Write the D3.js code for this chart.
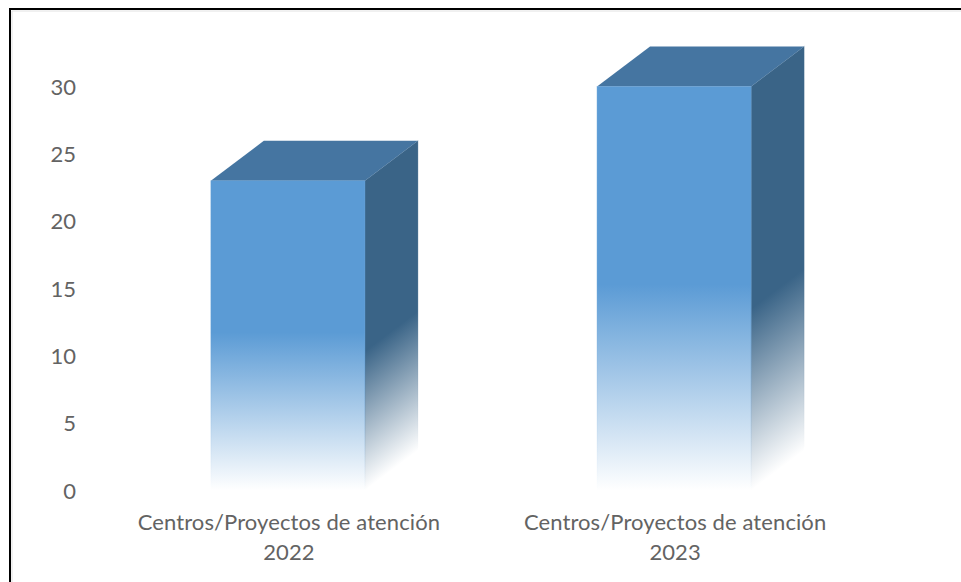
<!DOCTYPE html>
<html>
<head>
<meta charset="utf-8">
<script src="https://d3js.org/d3.v7.min.js"></script>
<style>
    html, body { margin: 0; padding: 0; background: #fff; overflow: hidden; }
    text { font-family: Lato, "Open Sans", sans-serif; fill: #636363; }
</style>
</head>
<body>
<svg id="chart" width="961" height="582"></svg>
<script>
const categories = ["Centros/Proyectos de atención 2022", "Centros/Proyectos de atención 2023"];
const values = [23, 30];
const yTicks = [0, 5, 10, 15, 20, 25, 30];

const svg = d3.select("#chart");

const frontColour = "#5B9BD5";
const sideColour = "#3A6487";
const topColour = "#4575A1";
const depthX = 53;
const depthY = 40;

const x = d3.scaleBand().domain(categories).range([95, 867]).paddingInner(0.601).paddingOuter(0.3);
const y = d3.scaleLinear().domain([0, 30]).range([490.5, 86.5]);

// frame of the pasted picture: left and top only
svg.append("path")
    .attr("d", "M12,582V11H961")
    .attr("fill", "none")
    .attr("stroke", "#e2e2e2")
    .attr("stroke-width", 1);
svg.append("path")
    .attr("d", "M10,582V9H961")
    .attr("fill", "none")
    .attr("stroke", "#000")
    .attr("stroke-width", 2);

const defs = svg.append("defs");
const fade = (id, colour, start) => {
    const g = defs.append("linearGradient")
        .attr("id", id)
        .attr("x1", 0).attr("y1", 0)
        .attr("x2", 0).attr("y2", 1);
    g.append("stop").attr("offset", start).attr("stop-color", colour);
    g.append("stop").attr("offset", "100%").attr("stop-color", colour).attr("stop-opacity", 0);
};
fade("front-fade", frontColour, "49%");
fade("side-fade", sideColour, "55%");

const yAxis = d3.axisLeft(y).tickValues(yTicks).tickSize(0).tickPadding(0);
svg.append("g")
    .attr("transform", "translate(76,0.5)")
    .call(yAxis)
    .call(g => g.select(".domain").remove())
    .selectAll("text")
    .attr("font-size", 22)
    .style("font-family", "Lato, 'Open Sans', sans-serif");

const bars = svg.selectAll(".bar")
    .data(categories.map((c, i) => ({category: c, value: values[i]})))
    .join("g")
    .attr("class", "bar");

const skew = Math.atan2(-depthY, depthX) * 180 / Math.PI;

bars.append("rect")
    .attr("x", d => x(d.category) + x.bandwidth())
    .attr("y", d => y(d.value))
    .attr("width", depthX)
    .attr("height", d => y(0) - y(d.value))
    .attr("transform", d => {
        const edge = x(d.category) + x.bandwidth();
        return `translate(${edge},0) skewY(${skew}) translate(${-edge},0)`;
    })
    .attr("fill", "url(#side-fade)")
    .attr("stroke", "url(#side-fade)")
    .attr("stroke-opacity", 0.3);

bars.append("path")
    .attr("d", d => {
        const l = x(d.category), r = l + x.bandwidth(), t = y(d.value);
        return `M${l},${t}L${l + depthX},${t - depthY}L${r + depthX},${t - depthY}L${r},${t}Z`;
    })
    .attr("fill", topColour);

bars.append("rect")
    .attr("x", d => x(d.category))
    .attr("y", d => y(d.value))
    .attr("width", x.bandwidth())
    .attr("height", d => y(0) - y(d.value))
    .attr("fill", "url(#front-fade)")
    .attr("stroke", "url(#front-fade)")
    .attr("stroke-opacity", 0.4);

const xAxis = d3.axisBottom(x).tickSize(0).tickFormat("");
const xg = svg.append("g")
    .attr("transform", `translate(1,${y(0)})`)
    .call(xAxis)
    .call(g => g.select(".domain").remove());

xg.selectAll(".tick text")
    .attr("font-size", 22)
    .attr("letter-spacing", 0.1)
    .attr("y", 0)
    .attr("dy", null)
    .each(function (d) {
        const words = d.split(" ");
        const year = words.pop();
        const t = d3.select(this);
        t.append("tspan").attr("x", 0).attr("y", 39).text(words.join(" "));
        t.append("tspan").attr("x", 0).attr("y", 69).text(year);
    });
</script>
</body>
</html>
